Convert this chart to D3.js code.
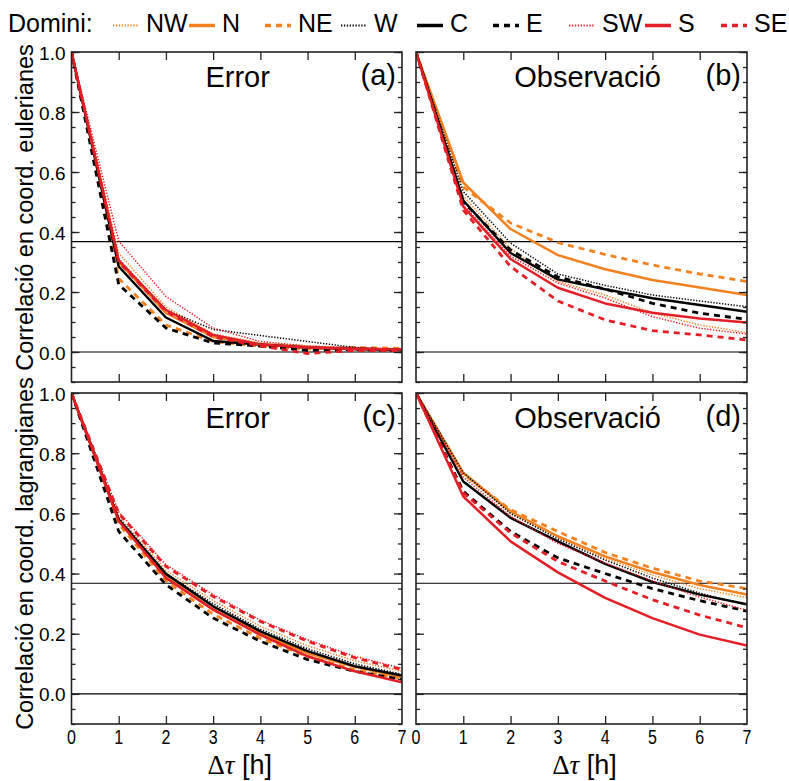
<!DOCTYPE html>
<html>
<head>
<meta charset="utf-8">
<script src="https://cdn.jsdelivr.net/npm/d3@7"></script>
<style>
  body { margin: 0; background: #fff; }
  svg { font-family: "Liberation Sans", Arial, Helvetica, sans-serif; }
</style>
</head>
<body>
<div id="box1"></div>
<script>
"use strict";

// data
const lags = [0, 1, 2, 3, 4, 5, 6, 7];
const domains = ['NW', 'N', 'NE', 'W', 'C', 'E', 'SW', 'S', 'SE'];
const dom_color = ['orange', 'orange', 'orange', 'black', 'black', 'black', 'red', 'red', 'red'];
const dom_style = ['dot', 'solid', 'dash', 'dot', 'solid', 'dash', 'dot', 'solid', 'dash'];

// (a) error, eulerian coordinates
const err_euler = [
  [1, 0.33, 0.15, 0.06, 0.03, 0.02, 0.012, 0.01],
  [1, 0.30, 0.13, 0.05, 0.025, 0.015, 0.01, 0.008],
  [1, 0.245, 0.09, 0.035, 0.02, 0.01, 0.015, 0.012],
  [1, 0.31, 0.14, 0.075, 0.055, 0.035, 0.015, 0.008],
  [1, 0.285, 0.115, 0.037, 0.025, 0.015, 0.01, 0.007],
  [1, 0.225, 0.08, 0.03, 0.02, 0.005, 0.008, 0.005],
  [1, 0.37, 0.185, 0.08, 0.035, 0.02, 0.015, 0.01],
  [1, 0.305, 0.14, 0.057, 0.025, 0.015, 0.01, 0.008],
  [1, 0.30, 0.135, 0.05, 0.02, -0.005, 0.005, 0.005]
];

// (b) observation, eulerian coordinates
const obs_euler = [
  [1, 0.52, 0.345, 0.235, 0.19, 0.13, 0.09, 0.065],
  [1, 0.565, 0.41, 0.323, 0.276, 0.24, 0.215, 0.19],
  [1, 0.55, 0.43, 0.365, 0.325, 0.29, 0.26, 0.235],
  [1, 0.535, 0.363, 0.26, 0.222, 0.19, 0.17, 0.151],
  [1, 0.505, 0.33, 0.242, 0.209, 0.179, 0.157, 0.134],
  [1, 0.50, 0.34, 0.25, 0.21, 0.162, 0.129, 0.109],
  [1, 0.49, 0.32, 0.23, 0.18, 0.118, 0.079, 0.06],
  [1, 0.485, 0.31, 0.214, 0.162, 0.131, 0.112, 0.098],
  [1, 0.473, 0.285, 0.17, 0.107, 0.071, 0.057, 0.04]
];

// (c) error, lagrangian coordinates
const err_lagr = [
  [1, 0.59, 0.41, 0.31, 0.225, 0.16, 0.11, 0.075],
  [1, 0.575, 0.39, 0.28, 0.20, 0.135, 0.09, 0.055],
  [1, 0.565, 0.375, 0.265, 0.185, 0.125, 0.08, 0.05],
  [1, 0.585, 0.40, 0.30, 0.215, 0.15, 0.10, 0.065],
  [1, 0.579, 0.399, 0.291, 0.208, 0.142, 0.092, 0.061],
  [1, 0.54, 0.363, 0.252, 0.175, 0.114, 0.075, 0.048],
  [1, 0.605, 0.43, 0.33, 0.245, 0.18, 0.125, 0.085],
  [1, 0.575, 0.385, 0.28, 0.196, 0.125, 0.075, 0.039],
  [1, 0.60, 0.424, 0.324, 0.241, 0.175, 0.12, 0.081]
];

// (d) observation, lagrangian coordinates
const obs_lagr = [
  [1, 0.73, 0.60, 0.52, 0.45, 0.395, 0.35, 0.32],
  [1, 0.735, 0.607, 0.524, 0.457, 0.405, 0.362, 0.33],
  [1, 0.73, 0.612, 0.54, 0.47, 0.418, 0.375, 0.35],
  [1, 0.735, 0.60, 0.515, 0.445, 0.385, 0.335, 0.295],
  [1, 0.706, 0.585, 0.507, 0.432, 0.372, 0.33, 0.298],
  [1, 0.673, 0.54, 0.452, 0.40, 0.35, 0.31, 0.275],
  [1, 0.72, 0.59, 0.50, 0.435, 0.375, 0.322, 0.278],
  [1, 0.656, 0.507, 0.404, 0.319, 0.252, 0.197, 0.161],
  [1, 0.668, 0.535, 0.44, 0.375, 0.313, 0.262, 0.22]
];

const y_ticks = [0, 0.2, 0.4, 0.6, 0.8, 1.0];
const ref_lines = [0, 1 / Math.E];

// layout
const W = 789, H = 781;
const colors = { orange: '#f4811f', black: '#000000', red: '#e41e26' };
const styles = {
  solid: { width: 2.5, dash: null },
  dash: { width: 2.8, dash: '6,5' },
  dot: { width: 1.5, dash: '1.3,1.6' }
};

const panels = [
  { data: err_euler, title: 'Error', tag: '(a)', x0: 71.5, x1: 402, y0: 382, y1: 52, tx: 3.52, ylab: true },
  { data: obs_euler, title: 'Observació', tag: '(b)', x0: 416, x1: 747, y0: 382, y1: 52, tx: 3.63, ylab: false },
  { data: err_lagr, title: 'Error', tag: '(c)', x0: 71.5, x1: 402, y0: 724, y1: 393, tx: 3.52, ylab: true },
  { data: obs_lagr, title: 'Observació', tag: '(d)', x0: 416, x1: 747, y0: 724, y1: 393, tx: 3.63, ylab: false }
];

const svg = d3.select('#box1').append('svg')
  .attr('width', W)
  .attr('height', H);

panels.forEach((p, i) => {
  const x = d3.scaleLinear().domain([0, 7]).range([p.x0, p.x1]);
  const y = d3.scaleLinear().domain([-0.1, 1.0]).range([p.y0, p.y1]);
  const g = svg.append('g');

  g.append('clipPath').attr('id', 'clip' + i)
    .append('rect')
    .attr('x', p.x0).attr('y', p.y1)
    .attr('width', p.x1 - p.x0).attr('height', p.y0 - p.y1);

  // reference lines at 0 and 1/e
  g.selectAll('line.ref').data(ref_lines).join('line')
    .attr('class', 'ref')
    .attr('x1', p.x0).attr('x2', p.x1)
    .attr('y1', d => y(d)).attr('y2', d => y(d))
    .attr('stroke', '#000').attr('stroke-width', 1.1);

  // curves
  const line = d3.line().x((d, k) => x(lags[k])).y(d => y(d));
  g.append('g').attr('clip-path', 'url(#clip' + i + ')')
    .selectAll('path').data(p.data).join('path')
    .attr('d', line)
    .attr('fill', 'none')
    .attr('stroke', (d, k) => colors[dom_color[k]])
    .attr('stroke-width', (d, k) => styles[dom_style[k]].width)
    .attr('stroke-dasharray', (d, k) => styles[dom_style[k]].dash)
    .attr('stroke-linejoin', 'round');

  // axes, ticks inward, mirrored
  const minor = d3.range(-0.1, 1.0001, 0.05).map(v => Math.round(v * 100) / 100);
  const axisL = d3.axisRight(y).tickValues(y_ticks).tickSize(8).tickFormat('');
  const axisLm = d3.axisRight(y).tickValues(minor).tickSize(4).tickFormat('');
  const axisR = d3.axisLeft(y).tickValues(y_ticks).tickSize(8).tickFormat('');
  const axisRm = d3.axisLeft(y).tickValues(minor).tickSize(4).tickFormat('');
  const axisB = d3.axisTop(x).tickValues(d3.range(1, 7)).tickSize(8).tickFormat('');
  const axisT = d3.axisBottom(x).tickValues(d3.range(1, 7)).tickSize(8).tickFormat('');

  [[axisL, `translate(${p.x0},0)`], [axisLm, `translate(${p.x0},0)`],
   [axisR, `translate(${p.x1},0)`], [axisRm, `translate(${p.x1},0)`],
   [axisB, `translate(0,${p.y0})`], [axisT, `translate(0,${p.y1})`]].forEach(([ax, tr]) => {
    const a = g.append('g').attr('transform', tr).call(ax);
    a.select('.domain').remove();
    a.selectAll('line').attr('stroke', '#222').attr('stroke-width', 1.3);
  });

  // frame
  g.append('rect')
    .attr('x', p.x0).attr('y', p.y1)
    .attr('width', p.x1 - p.x0).attr('height', p.y0 - p.y1)
    .attr('fill', 'none').attr('stroke', '#222').attr('stroke-width', 1.6);

  // y tick labels
  if (p.ylab) {
    g.selectAll('text.yt').data(y_ticks).join('text')
      .attr('class', 'yt')
      .attr('x', p.x0 - 6).attr('y', d => y(d) + 1)
      .attr('text-anchor', 'end').attr('dominant-baseline', 'central')
      .attr('font-size', 19)
      .text(d => d3.format('.1f')(d));
  }

  // titles
  g.append('text')
    .attr('x', x(p.tx)).attr('y', p.y1 + 35)
    .attr('text-anchor', 'middle').attr('font-size', 29)
    .text(p.title);
  g.append('text')
    .attr('x', p.x1 - 6).attr('y', p.y1 + 33)
    .attr('text-anchor', 'end').attr('font-size', 29)
    .text(p.tag);

  // x tick labels (bottom row only)
  if (p.y0 > 600) {
    g.selectAll('text.xt').data(lags).join('text')
      .attr('class', 'xt')
      .attr('transform', d => `translate(${x(d)},${p.y0 + 20}) scale(0.8,1)`)
      .attr('text-anchor', 'middle').attr('font-size', 20)
      .text(d => d);
    const xt = g.append('text')
      .attr('x', (p.x0 + p.x1) / 2 + 3).attr('y', 774)
      .attr('text-anchor', 'middle').attr('font-size', 27);
    xt.append('tspan').attr('font-family', '"Liberation Serif", "Times New Roman", serif').text('Δ');
    xt.append('tspan').attr('font-family', '"Liberation Serif", "Times New Roman", serif')
      .attr('font-style', 'italic').text('τ');
    xt.append('tspan').text(' [h]');
  }
});

// y axis titles
[['Correlació en coord. eulerianes', 207.5], ['Correlació en coord. lagrangianes', 553.5]].forEach(([t, cy]) => {
  svg.append('text')
    .attr('transform', `translate(33,${cy}) rotate(-90)`)
    .attr('text-anchor', 'middle').attr('font-size', 23.5)
    .text(t);
});

// legend
const leg = svg.append('g');
leg.append('text').attr('x', 8).attr('y', 32).attr('font-size', 25).text('Domini:');
const leg_x = d3.scaleLinear().domain([0, 8]).range([113, 721]);
const item = leg.selectAll('g.item').data(domains).join('g')
  .attr('class', 'item')
  .attr('transform', (d, k) => `translate(${leg_x(k)},0)`);
item.append('line')
  .attr('x1', 0).attr('x2', 26).attr('y1', 25.5).attr('y2', 25.5)
  .attr('stroke', (d, k) => colors[dom_color[k]])
  .attr('stroke-width', (d, k) => dom_style[k] === 'dot' ? 1.8 : 3.5)
  .attr('stroke-dasharray', (d, k) => dom_style[k] === 'dash' ? '6,5' : (dom_style[k] === 'dot' ? '1.3,1.6' : null));
item.append('text')
  .attr('x', 33).attr('y', 32).attr('font-size', 25)
  .text(d => d);
</script>
</body>
</html>
